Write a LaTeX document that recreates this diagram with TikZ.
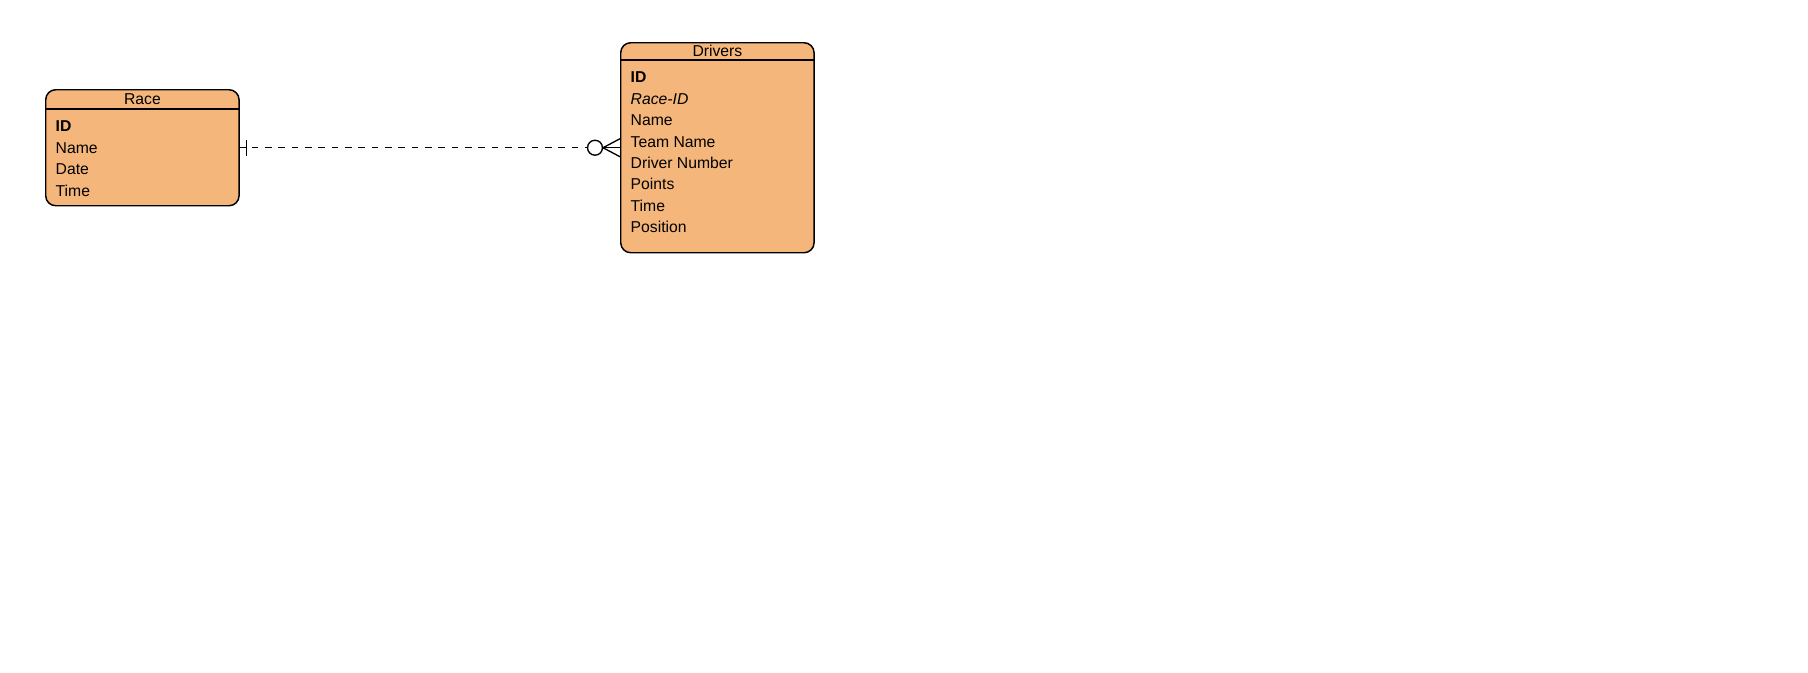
\documentclass[tikz,border=0pt]{standalone}
\usepackage{fontspec}
\setmainfont{Liberation Sans}
\usetikzlibrary{calc}
\usetikzlibrary{positioning}
\definecolor{tablefill}{HTML}{F4B67A}

\begin{document}
\begin{tikzpicture}[x=0.75pt, y=-0.75pt, line width=1pt,                                % 1 unit = 1 px
                        table/.style = {draw=black, fill=tablefill, rounded corners=7.5pt, line width=1.1pt,
                                        minimum width=145pt, inner sep=0pt, anchor=north west},  % entity boxes
                        title/.style = {font=\fontsize{11.8}{13}\selectfont, inner sep=0pt},
                        rows/.style = {align=left, font=\fontsize{11.8}{16.05}\selectfont,
                                       inner sep=0pt, anchor=north west},
                        link/.style = {dash pattern=on 5pt off 5pt}]                      % dashed relation
        \useasboundingbox (0,0) rectangle (1808,672);
        \node[table, minimum height=87pt] (race) at (45,89) {};
        \node[table, minimum height=157.5pt] (drivers) at (620,42) {};
        %titles
        \node[title] (racetitle) at ($(race.north)+(0,10)$) {Race};
        \node[title] (drivertitle) at ($(drivers.north)+(0,9)$) {Drivers};
        \draw[line width=0.8pt] ($(race.north west)+(0,20)$) -- ($(race.north east)+(0,20)$);
        \draw[line width=0.8pt] ($(drivers.north west)+(0,18)$) -- ($(drivers.north east)+(0,18)$);
        %attributes
        \node[rows] (raceattr) at ($(race.north west)+(10,31.5)$)
            {\textbf{ID}\\Name\\Date\\Time};
        \node[rows] (driverattr) at ($(drivers.north west)+(10,29.5)$)
            {\textbf{ID}\\\textit{Race-ID}\\Name\\Team Name\\Driver Number\\Points\\Time\\Position};
        %edge:one to zero-or-many
        \coordinate (one) at ($(race.east)+(7,0)$);
        \coordinate (zero) at ($(drivers.west)+(-25,0)$);
        \coordinate (foot) at ($(drivers.west)+(-17,0)$);
        \draw[link] ($(one)+(5,0)$) -- ($(zero)+(-8,0)$);
        \draw (race.east) -- (one);
        \draw ($(one)+(0,-8)$) -- ($(one)+(0,8)$);
        \draw (zero) circle[radius=5.6pt];
        \draw ($(zero)+(7.5,0)$) -- (drivers.west);
        \draw (foot) -- ($(drivers.west)+(0,-9)$);
        \draw (foot) -- ($(drivers.west)+(0,9)$);
    \end{tikzpicture}
\end{document}
